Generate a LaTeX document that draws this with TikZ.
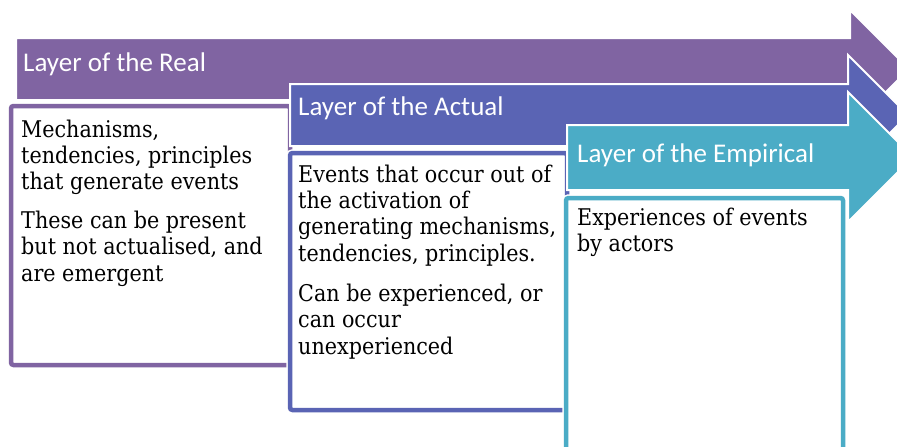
\documentclass[tikz,border=0pt]{standalone}
\usepackage{fontspec}
\newfontfamily\bodyfont{DejaVu Serif}[FakeStretch=0.9]
\newfontfamily\headfont{Carlito}
\definecolor{cReal}{HTML}{8064A2}
\definecolor{cActual}{HTML}{5A64B4}
\definecolor{cEmp}{HTML}{4BACC6}
\newcommand{\topstrut}{\rule{0pt}{18pt}}
\begin{document}
\begin{tikzpicture}[x=1pt,y=-1pt,
  arrowshape/.style={fill=#1, draw=white, line width=2pt, line join=miter},
  layerbox/.style={draw=#1, fill=white, line width=4.5pt, rounded corners=2.5pt,
    preaction={draw=white, line width=7.5pt}},
  headtext/.style={anchor=base west, inner sep=0pt, text=white, font=\headfont\fontsize{27}{30}\selectfont},
  bodytext/.style={anchor=north west, inner sep=0pt, align=left, text=black, font=\bodyfont\fontsize{23}{26.3}\selectfont}]
\clip (0,0) rectangle (897,447);
\fill[white] (0,0) rectangle (897,447);
% Layer of the Real
\draw[arrowshape=cReal] (16,38) -- (850,38) -- (850,10) -- (909,69) -- (850,128) -- (850,100) -- (16,100) -- cycle;
\draw[layerbox=cReal] (11,106) rectangle (290,365);
\node[headtext] (hreal) at (23,71) {Layer of the Real};
\node[bodytext] (treal) at (21,119) {\topstrut Mechanisms,\\tendencies, principles\\that generate events\\[12.5pt]These can be present\\but not actualised, and\\are emergent};
% Layer of the Actual
\draw[arrowshape=cActual] (290,84) -- (848,84) -- (848,55) -- (908,115) -- (848,175) -- (848,146) -- (290,146) -- cycle;
\draw[layerbox=cActual] (290,153) rectangle (567,410);
\node[headtext] (hactual) at (298,115) {Layer of the Actual};
\node[bodytext] (tactual) at (298,164) {\topstrut Events that occur out of\\the activation of\\generating mechanisms,\\tendencies, principles.\\[14pt]Can be experienced, or\\can occur\\unexperienced};
% Layer of the Empirical
\draw[arrowshape=cEmp] (567,125) -- (848,125) -- (848,92) -- (913,157) -- (848,222) -- (848,190) -- (567,190) -- cycle;
\draw[layerbox=cEmp] (566,198) rectangle (843,480);
\node[headtext] (hemp) at (577,162) {Layer of the Empirical};
\node[bodytext] (temp) at (577,207) {\topstrut Experiences of events\\by actors};
\end{tikzpicture}
\end{document}
